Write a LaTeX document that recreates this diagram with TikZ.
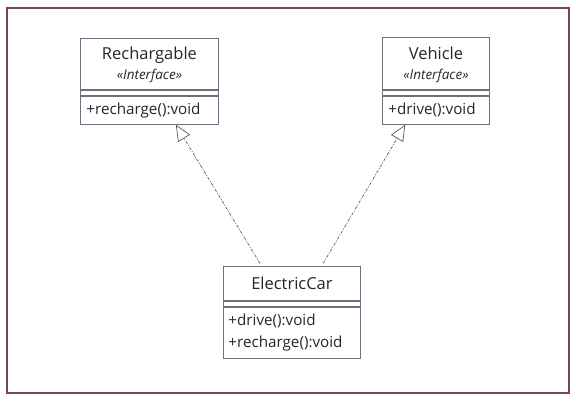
\documentclass[tikz,border=0pt]{standalone}
\usepackage{fontspec}
\setmainfont{Open Sans}
\usetikzlibrary{arrows.meta,calc,positioning}

\definecolor{boxline}{HTML}{6E6E7E}
\definecolor{frameline}{HTML}{7A4650}
\definecolor{txt}{HTML}{262626}
\definecolor{linkline}{HTML}{5A5A5A}

\tikzset{
  classname/.style={draw=boxline, line width=0.9pt, text=txt, align=center,
                    inner sep=0pt, font=\fontsize{16.5}{21}\selectfont},
  classattr/.style={draw=boxline, line width=0.9pt, inner sep=0pt,
                    minimum height=5pt},
  classops/.style={draw=boxline, line width=0.9pt, text=txt, align=left,
                   inner xsep=6pt, inner ysep=0pt,
                   font=\fontsize{15.2}{23}\selectfont},
  realize/.style={draw=linkline, line width=0.7pt,
                  dash pattern=on 3pt off 1.5pt on 1pt off 1.5pt,
                  -{Triangle[open, length=16pt, width=14pt, line width=0.7pt]}}
}
\newcommand{\stereotype}{{\fontsize{13.5}{15}\selectfont\itshape «Interface»}}

\begin{document}
\begin{tikzpicture}[x=1pt, y=-1pt]
  \useasboundingbox (0,0) rectangle (576,401);
  \draw[frameline, line width=1.1pt] (7,8) rectangle (569,393);

  % interface Rechargable
  \node[classname, anchor=north west, minimum width=138pt, minimum height=51pt]
    (rech) at (80,38) {\rule{0pt}{15pt}Rechargable\\[-1pt]\stereotype};
  \node[classattr, below=0pt of rech, minimum width=138pt] (rech-attr) {};
  \node[classops, below=0pt of rech-attr, text width=126pt, minimum height=28pt]
    (rech-ops) {+recharge():void};

  % interface Vehicle
  \node[classname, anchor=north west, minimum width=107pt, minimum height=52pt]
    (veh) at (382,37) {\rule{0pt}{15pt}Vehicle\\[-1pt]\stereotype};
  \node[classattr, below=0pt of veh, minimum width=107pt] (veh-attr) {};
  \node[classops, below=0pt of veh-attr, text width=95pt, minimum height=28pt]
    (veh-ops) {+drive():void};

  % class ElectricCar
  \node[classname, anchor=north west, minimum width=137pt, minimum height=34pt]
    (elec) at (223,266) {ElectricCar};
  \node[classattr, below=0pt of elec, minimum width=137pt] (elec-attr) {};
  \node[classops, below=0pt of elec-attr, minimum height=51pt,
        inner xsep=5pt, text width=127pt]
    (elec-ops) {+drive():void\\[-1pt]+recharge():void};

  % realizations
  \draw[realize, shorten <=3pt] ($(elec.north west)!0.28!(elec.north east)$)
    -- ($(rech-ops.south west)!0.69!(rech-ops.south east)$);
  \draw[realize, shorten <=3pt] ($(elec.north west)!0.715!(elec.north east)$)
    -- ($(veh-ops.south west)!0.215!(veh-ops.south east)$);
\end{tikzpicture}
\end{document}
